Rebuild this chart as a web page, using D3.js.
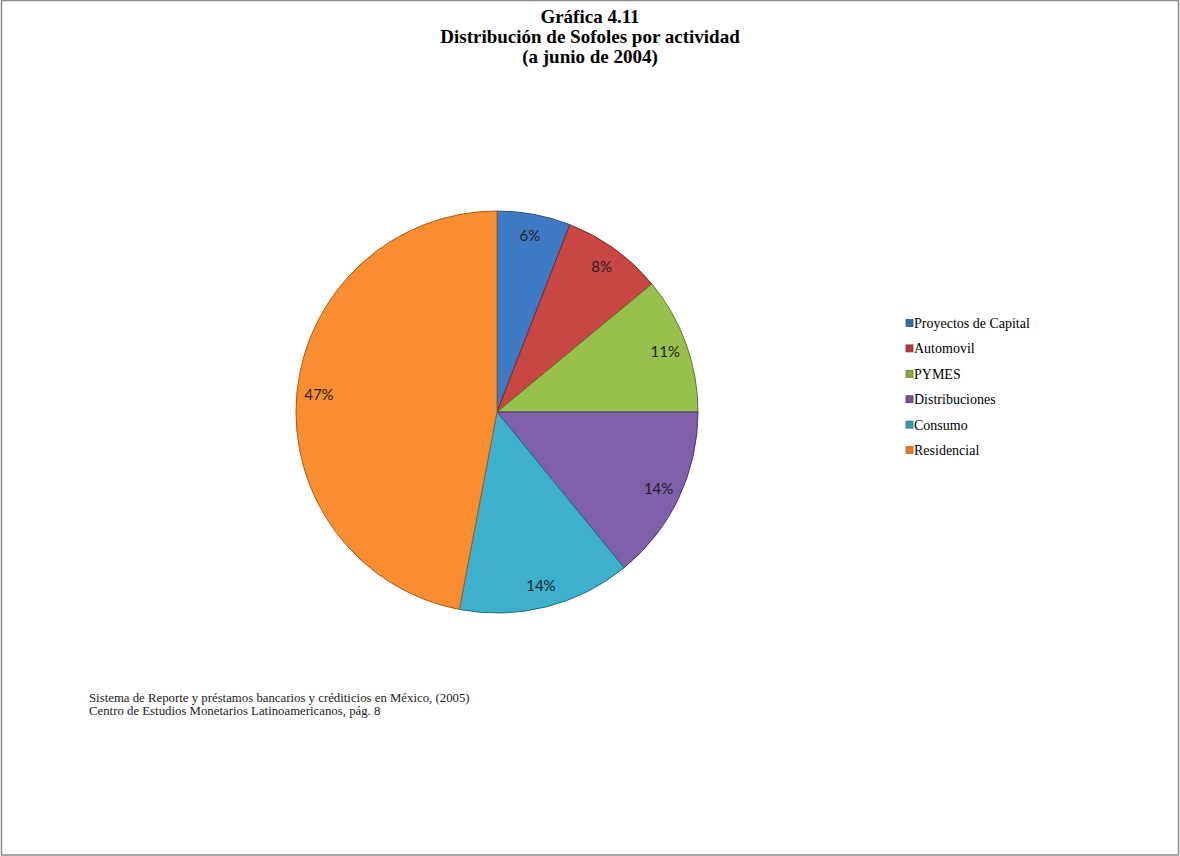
<!DOCTYPE html>
<html>
<head>
<meta charset="utf-8">
<style>
  body { margin: 0; background: #fff; }
  svg { display: block; }
</style>
</head>
<body>
<div id="pieChart"></div>
<script src="https://d3js.org/d3.v7.min.js"></script>
<script>
  // values (share of Sofoles, %)
  const categories = ["Proyectos de Capital", "Automovil", "PYMES", "Distribuciones", "Consumo", "Residencial"];
  const values = [5.9, 8.1, 11, 14.1, 13.9, 47];
  const colorsTop = ["#3f7bc4", "#c84644", "#98c04c", "#8060aa", "#3cb0cd", "#f98e30"];
  const colorsBottom = ["#2a5690", "#8e2e2e", "#66862f", "#563b7c", "#26798f", "#bd6420"];
  const titleLines = ["Gráfica 4.11", "Distribución de Sofoles por actividad", "(a junio de 2004)"];
  const sourceLines = [
    "Sistema de Reporte y préstamos bancarios y créditicios en México, (2005)",
    "Centro de Estudios Monetarios Latinoamericanos, pág. 8"
  ];

  const W = 1180, H = 856;
  const cx = 497, cy = 412, r = 201;

  const svg = d3.select("#pieChart").append("svg")
    .attr("width", W)
    .attr("height", H);

  svg.append("rect")
    .attr("x", 1.5).attr("y", 0.5)
    .attr("width", W - 3).attr("height", H - 1.5)
    .attr("fill", "#fff")
    .attr("stroke", "#8c8c8c")
    .attr("stroke-width", 1.5);

  // gradients (lighter at the top, darker at the bottom)
  const defs = svg.append("defs");
  categories.forEach((c, i) => {
    const g = defs.append("linearGradient")
      .attr("id", "grad" + i)
      .attr("gradientUnits", "userSpaceOnUse")
      .attr("x1", cx - r * 0.3).attr("y1", cy - r)
      .attr("x2", cx + r * 0.3).attr("y2", cy + r);
    g.append("stop").attr("offset", "0%").attr("stop-color", colorsTop[i]);
    g.append("stop").attr("offset", "100%").attr("stop-color", colorsBottom[i]);
  });

  // title
  svg.append("g").selectAll("text")
    .data(titleLines)
    .join("text")
    .attr("x", 590)
    .attr("y", (d, i) => 23 + i * 20)
    .attr("text-anchor", "middle")
    .attr("font-family", "Liberation Serif, Times New Roman, serif")
    .attr("font-weight", "bold")
    .attr("font-size", 19)
    .attr("fill", "#000")
    .text(d => d);

  // pie
  const pie = d3.pie().sort(null).value(d => d);
  const arcs = pie(values);
  const arc = d3.arc().innerRadius(0).outerRadius(r);
  const labelArc = d3.arc().innerRadius(r * 0.89).outerRadius(r * 0.89);

  const g = svg.append("g");

  g.selectAll("path")
    .data(arcs)
    .join("path")
    .attr("transform", `translate(${cx},${cy})`)
    .attr("d", arc)
    .attr("fill", (d, i) => `url(#grad${i})`)
    .attr("stroke", (d, i) => d3.color(colorsBottom[i]).darker(0.3))
    .attr("stroke-width", 1);

  g.selectAll("text")
    .data(arcs)
    .join("text")
    .attr("transform", d => {
      const [x, y] = labelArc.centroid(d);
      return `translate(${cx + x},${cy + y})`;
    })
    .attr("text-anchor", "middle")
    .attr("dy", "0.35em")
    .attr("font-family", "Lato, Open Sans, sans-serif")
    .attr("font-size", 15)
    .attr("fill", "#1e1e1e")
    .text(d => Math.round(d.data) + "%");

  // legend
  const legend = svg.append("g").attr("transform", "translate(906,323)");
  const rows = legend.selectAll("g")
    .data(categories)
    .join("g")
    .attr("transform", (d, i) => `translate(0,${i * 25.4})`);

  rows.append("rect")
    .attr("x", 0).attr("y", -3.5)
    .attr("width", 7).attr("height", 7)
    .attr("fill", (d, i) => d3.interpolateRgb(colorsTop[i], colorsBottom[i])(0.4))
    .attr("stroke", (d, i) => colorsBottom[i])
    .attr("stroke-width", 0.8);

  rows.append("text")
    .attr("x", 8)
    .attr("y", 5)
    .attr("font-family", "Liberation Serif, Times New Roman, serif")
    .attr("font-size", 14)
    .attr("fill", "#000")
    .text(d => d);

  // source note
  svg.append("g").selectAll("text")
    .data(sourceLines)
    .join("text")
    .attr("x", 89)
    .attr("y", (d, i) => 702 + i * 12.5)
    .attr("font-family", "Liberation Serif, Times New Roman, serif")
    .attr("font-size", 12.8)
    .attr("fill", "#222")
    .text(d => d);
</script>
</body>
</html>
